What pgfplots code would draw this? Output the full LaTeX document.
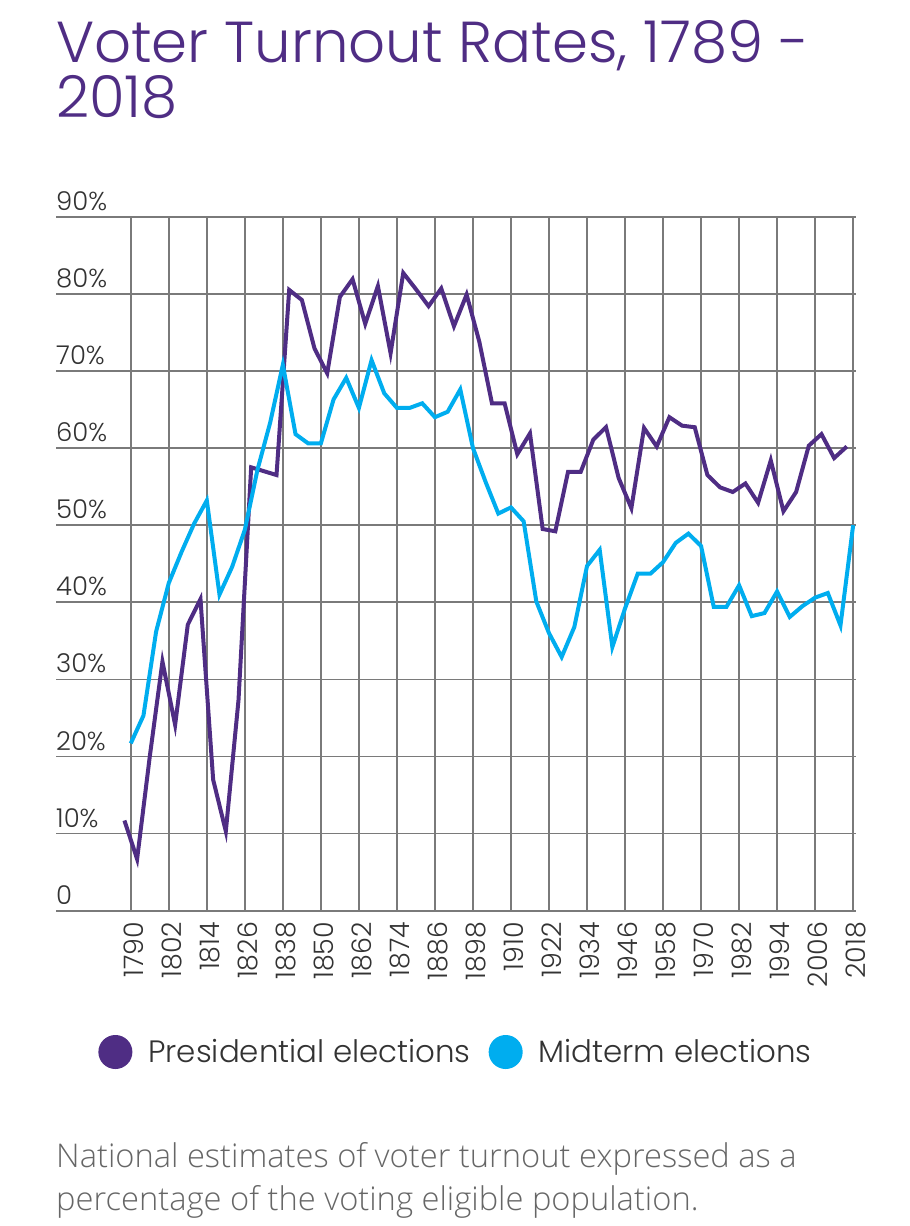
\documentclass[border=0pt]{standalone}
\usepackage{pgfplots}
\pgfplotsset{compat=1.18}
\usepackage{fontspec}
\setmainfont{Poppins Light}
\newfontfamily\capfont{Open Sans Light}
\definecolor{pres}{HTML}{4F2D84}
\definecolor{mid}{HTML}{00ADEF}
\definecolor{gridc}{HTML}{7A7A7A}
\definecolor{txt}{HTML}{333333}
\definecolor{capc}{HTML}{666666}
\begin{document}
\begin{tikzpicture}
\path[use as bounding box] (0bp,0bp) rectangle (910bp,-1226bp);
\node[anchor=base west, inner sep=0, text=pres, font=\fontsize{58}{58}\selectfont] at (56bp,-62bp) {Voter Turnout Rates, 1789 -};
\node[anchor=base west, inner sep=0, text=pres, font=\fontsize{58}{58}\selectfont] at (56bp,-117bp) {2018};
\begin{axis}[at={(56bp,-910.7bp)}, anchor=south west, scale only axis,
  width=800bp, height=694bp,
  xmin=1766.4, xmax=2018.9, ymin=0, ymax=90,
  axis line style={draw=none},
  major tick length=0pt,
  xtick={1790,1802,1814,1826,1838,1850,1862,1874,1886,1898,1910,1922,1934,1946,1958,1970,1982,1994,2006,2018},
  xticklabels={1790,1802,1814,1826,1838,1850,1862,1874,1886,1898,1910,1922,1934,1946,1958,1970,1982,1994,2006,2018},
  ytick={0,10,20,30,40,50,60,70,80,90},
  yticklabels={0,10\%,20\%,30\%,40\%,50\%,60\%,70\%,80\%,90\%},
  grid=major,
  major grid style={gridc, line width=1.6bp},
  xticklabel style={rotate=90, anchor=east, inner sep=0pt, xshift=-11bp, yshift=-3bp, font=\fontsize{27}{27}\selectfont, text=txt},
  yticklabel style={anchor=south west, inner sep=0pt, yshift=6bp, font=\fontsize{26}{26}\selectfont, text=txt},
  legend style={at={(0.5,-0.2036)}, anchor=center, draw=none, fill=none, legend columns=2,
    font=\fontsize{31}{31}\selectfont, text=txt,
    /tikz/every even column/.append style={column sep=16bp}},
  legend image code/.code={\fill[#1] (0bp,0bp) circle (15bp); \path[draw=none] (-15bp,0bp) -- (31bp,0bp);},
  clip=false,
]
\addplot[pres, line width=4bp] coordinates {
(1788,11.7)(1792,6.7)(1796,20.0)(1800,32.3)(1804,24.1)(1808,37.1)(1812,40.4)(1816,17.0)
(1820,10.3)(1824,27.3)(1828,57.5)(1832,57.0)(1836,56.5)(1840,80.5)(1844,79.2)(1848,72.9)
(1852,69.7)(1856,79.6)(1860,81.9)(1864,76.1)(1868,81.0)(1872,72.3)(1876,82.7)(1880,80.6)
(1884,78.4)(1888,80.7)(1892,75.8)(1896,79.9)(1900,73.8)(1904,65.8)(1908,65.8)(1912,59.2)
(1916,61.9)(1920,49.5)(1924,49.2)(1928,56.9)(1932,56.9)(1936,61.1)(1940,62.7)(1944,56.1)
(1948,52.2)(1952,62.6)(1956,60.2)(1960,64.0)(1964,62.9)(1968,62.7)(1972,56.5)(1976,54.9)
(1980,54.3)(1984,55.4)(1988,52.9)(1992,58.4)(1996,51.8)(2000,54.3)(2004,60.3)(2008,61.8)
(2012,58.7)(2016,60.2)};
\addlegendentry{Presidential elections}
\addplot[mid, line width=4bp] coordinates {
(1790,21.7)(1794,25.3)(1798,36.2)(1802,42.5)(1806,46.5)(1810,50.2)(1814,53.2)(1818,41.0)
(1822,44.6)(1826,49.4)(1830,57.2)(1834,63.3)(1838,70.8)(1842,61.8)(1846,60.6)(1850,60.6)
(1854,66.3)(1858,69.1)(1862,65.2)(1866,71.4)(1870,67.1)(1874,65.2)(1878,65.2)(1882,65.8)
(1886,64.0)(1890,64.7)(1894,67.6)(1898,60.0)(1902,55.6)(1906,51.5)(1910,52.3)(1914,50.5)
(1918,40.1)(1922,36.0)(1926,32.9)(1930,36.8)(1934,44.7)(1938,46.8)(1942,34.2)(1946,39.2)
(1950,43.7)(1954,43.7)(1958,45.2)(1962,47.7)(1966,48.9)(1970,47.3)(1974,39.4)(1978,39.4)
(1982,42.2)(1986,38.2)(1990,38.6)(1994,41.4)(1998,38.1)(2002,39.5)(2006,40.6)(2010,41.2)
(2014,37.0)(2018,50.0)};
\addlegendentry{Midterm elections}
\end{axis}
\node[anchor=base west, inner sep=0, text=capc, font=\capfont\fontsize{32.8}{32.8}\selectfont] at (56bp,-1167bp) {National estimates of voter turnout expressed as a};
\node[anchor=base west, inner sep=0, text=capc, font=\capfont\fontsize{32.8}{32.8}\selectfont] at (56bp,-1210bp) {percentage of the voting eligible population.};
\end{tikzpicture}
\end{document}
